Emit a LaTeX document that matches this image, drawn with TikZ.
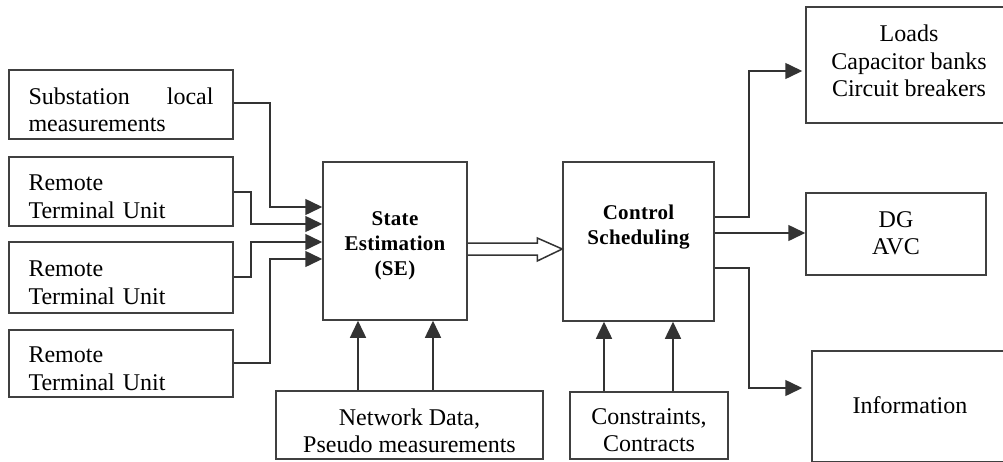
\documentclass[tikz,border=0pt]{standalone}
\usepackage{fontspec}
\setmainfont{Liberation Serif}
\newfontfamily\hdfont[LetterSpace=1.5]{Liberation Serif}
\usetikzlibrary{arrows.meta,calc}
\begin{document}
\begin{tikzpicture}[x=1pt,y=-1pt,
  box/.style={draw=black!75,line width=1.5pt,rectangle,inner sep=0pt},
  txt/.style={font=\fontsize{24}{27.5}\selectfont,align=center,inner sep=0pt},
  ltxt/.style={txt,text width=185pt,align=left},
  conn/.style={draw=black!80,line width=1.5pt},
  arr/.style={conn,-{Triangle[length=17pt,width=16pt]}},
  hd/.style={font=\hdfont\bfseries\fontsize{21}{25}\selectfont,align=center,inner sep=0pt}]
\useasboundingbox (0,0) rectangle (1003,461);
\fill[white] (0,0) rectangle (1003,461);
\clip (0,0) rectangle (1003,461);
% left boxes
\node[box,minimum width=224pt,minimum height=69pt] (b1) at (121,104.5) {};
\node[ltxt] (b1t) at (121,110) {Substation\hfill local\\measurements};
\node[box,minimum width=224pt,minimum height=69pt] (b2) at (121,191.5) {};
\node[ltxt] (b2t) at (121,197) {Remote\\Terminal Unit};
\node[box,minimum width=224pt,minimum height=71pt] (b3) at (121,277.5) {};
\node[ltxt] (b3t) at (121,283) {Remote\\Terminal Unit};
\node[box,minimum width=224pt,minimum height=67pt] (b4) at (121,363.5) {};
\node[ltxt] (b4t) at (121,369) {Remote\\Terminal Unit};
% SE
\node[box,minimum width=144pt,minimum height=158pt] (se) at (395,241) {};
\node[hd] (setext) at (395,246) {State\\Estimation\\(SE)};
% Control
\node[box,minimum width=151pt,minimum height=159pt] (cs) at (638.5,241.5) {};
\node[hd] (cstext) at (638.5,227) {Control\\Scheduling};
% right boxes
\node[box,minimum width=206pt,minimum height=116pt] (loads) at (909,65) {};
\node[txt] (loadst) at (909,61) {Loads\\Capacitor banks\\Circuit breakers};
\node[box,minimum width=180pt,minimum height=82pt] (dg) at (896,234) {};
\node[txt] (dgt) at (896,233) {DG\\AVC};
\node[box,minimum width=196pt,minimum height=111pt] (info) at (910,406.5) {};
\node[txt] (infot) at (910,405.5) {Information};
% bottom boxes
\node[box,minimum width=267pt,minimum height=68pt] (net) at (409.5,425) {};
\node[txt] (nett) at (409.5,431) {Network Data,\\Pseudo measurements};
\node[box,minimum width=158pt,minimum height=67pt] (cons) at (649,425.5) {};
\node[txt] (const) at (649,430) {Constraints,\\Contracts};
% inputs to SE
\draw[arr] ($(b1.east)+(0,-1.5)$) -- ++(36,0) |- ($(se.west)+(0,-34)$);
\draw[arr] ($(b2.east)+(0,0.5)$) -- ++(17,0) |- ($(se.west)+(0,-17)$);
\draw[arr] ($(b3.east)+(0,-0.5)$) -- ++(17,0) |- ($(se.west)+(0,1)$);
\draw[arr] ($(b4.east)+(0,-0.5)$) -- ++(36,0) |- ($(se.west)+(0,18)$);
% bottom arrows
\draw[arr] ($(net.north)+(-51.5,0)$) -- ($(se.south)+(-37,0)$);
\draw[arr] ($(net.north)+(23.5,0)$) -- ($(se.south)+(38,0)$);
\draw[arr] ($(cons.north)+(-45,0)$) -- ($(cs.south)+(-34.5,0)$);
\draw[arr] ($(cons.north)+(24,0)$) -- ($(cs.south)+(34.5,0)$);
% hollow arrow SE -> CS
\coordinate (h1) at ($(se.east)+(0,2)$);
\coordinate (h2) at ($(se.east)+(0,14)$);
\coordinate (htip) at ($(cs.west)+(0,7.5)$);
\draw[conn,line join=miter] (h1) -- ($(htip)+(-25,-6)$) -- ($(htip)+(-25,-11)$) -- (htip)
  -- ($(htip)+(-25,12)$) -- ($(htip)+(-25,6)$) -- (h2);
% outputs
\draw[arr] ($(cs.east)+(0,-24.5)$) -- ++(34,0) |- ($(loads.west)+(-3,6)$);
\draw[arr] ($(cs.east)+(0,-8.5)$) -- ($(dg.west)+(0,-1)$);
\draw[arr] ($(cs.east)+(0,26.5)$) -- ++(34,0) |- ($(info.west)+(-9,-18.5)$);
\end{tikzpicture}
\end{document}
